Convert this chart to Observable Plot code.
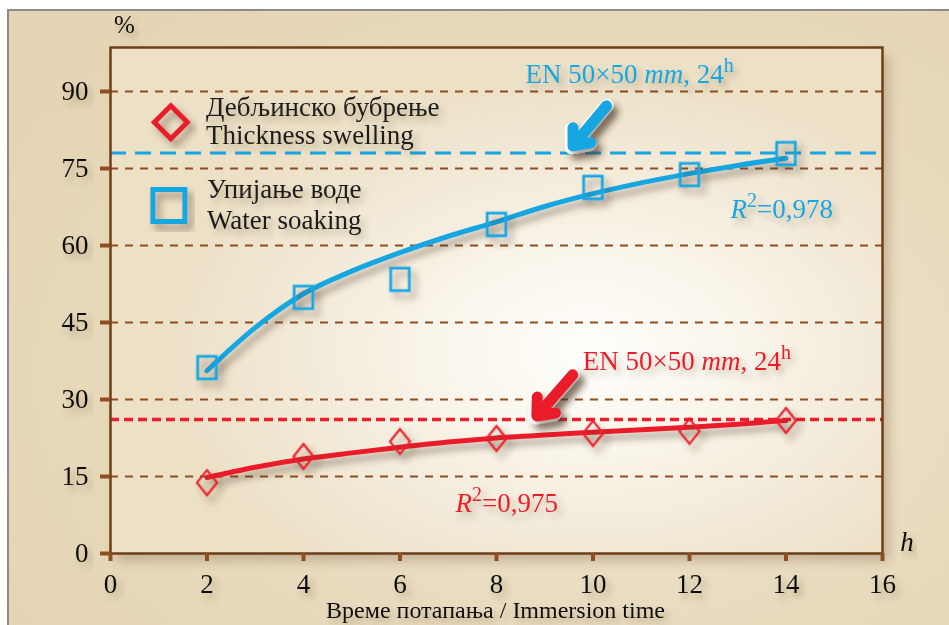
<!DOCTYPE html>
<html><head><meta charset="utf-8">
<script src="https://cdn.jsdelivr.net/npm/d3@7"></script>
<script src="https://cdn.jsdelivr.net/npm/@observablehq/plot@0.6"></script>
<style>
body{margin:0;background:#fff;}
#wrap{position:relative;width:949px;height:625px;overflow:hidden;background:#fff;}
#bg{position:absolute;left:7px;top:9px;width:980px;height:660px;border-left:2px solid #8c8c8c;border-top:2px solid #8c8c8c;
 background:radial-gradient(ellipse 70% 70% at 60% 55%, #efe5d0 0%, #e8dabd 60%, #e5d5b4 100%);}
#pa{position:absolute;left:110px;top:47px;width:773px;height:506px;
 background:radial-gradient(ellipse 55% 55% at 62% 60%, #fffefb 0%, #fbf7ee 30%, #f3ebda 65%, #ece0c6 100%);
 box-shadow:6px 8px 10px rgba(90,60,30,0.25);}
#chart{position:absolute;left:0;top:0;}
</style></head>
<body><div id="wrap"><div id="bg"></div><div id="pa"></div><div id="chart"></div></div>
<script>
// ---- data ----
const hours = [2, 4, 6, 8, 10, 12, 14];
const thicknessSwelling = [13.8, 18.9, 21.8, 22.4, 23.4, 23.8, 25.9];
const waterSoaking = [36.2, 49.9, 53.4, 64.1, 71.3, 73.8, 77.9];
const fitHours = [2, 3, 4, 5, 6, 7, 8, 9, 10, 11, 12, 13, 14];
const thicknessFit = [14.8, 16.8, 18.4, 19.6, 20.7, 21.7, 22.5, 23.1, 23.6, 24.1, 24.6, 25.2, 25.9];
const waterFit = [35.6, 44.0, 50.6, 55.0, 58.6, 61.8, 64.6, 67.6, 70.1, 72.2, 74.0, 75.6, 77.0];
const enWater = 78;
const enThickness = 26.1;
const yTicks = [0, 15, 30, 45, 60, 75, 90];
const gridTicks = [15, 30, 45, 60, 75, 90];
const xTicks = [0, 2, 4, 6, 8, 10, 12, 14, 16];
const legendLabels = ["Дебљинско бубрење", "Thickness swelling", "Упијање воде", "Water soaking"];
const enLabel = "EN 50×50 mm, 24h";
const r2Water = "R2=0,978";
const r2Thickness = "R2=0,975";
const xLabel = "Време потапања / Immersion time";

const BLUE = "#17a6e2", RED = "#ea1f2b", BROWN = "#8e4e22", FRAME = "#6e3e18";

const pts = (xs, ys) => xs.map((x, i) => ({x, y: ys[i]}));

const rectSym = {draw(ctx) { const w = 9.3, h = 11.3; ctx.moveTo(-w, -h); ctx.lineTo(w, -h); ctx.lineTo(w, h); ctx.lineTo(-w, h); ctx.closePath(); }};
const diaSym = {draw(ctx) { const w = 10, h = 12.5; ctx.moveTo(0, -h); ctx.lineTo(w, 0); ctx.lineTo(0, h); ctx.lineTo(-w, 0); ctx.closePath(); }};
const legDia = {draw(ctx) { const h = 16.5; ctx.moveTo(0, -h); ctx.lineTo(h, 0); ctx.lineTo(0, h); ctx.lineTo(-h, 0); ctx.closePath(); }};
const legSq = {draw(ctx) { const h = 16; ctx.moveTo(-h, -h); ctx.lineTo(h, -h); ctx.lineTo(h, h); ctx.lineTo(-h, h); ctx.closePath(); }};

const arrows = [
  {x1: 10.28, y1: 87.2, x2: 9.56, y2: 79.1, c: BLUE},
  {x1: 9.58, y1: 34.8, x2: 8.81, y2: 26.5, c: RED}
];

const plot = Plot.plot({
  width: 949, height: 625,
  marginLeft: 110, marginRight: 67, marginTop: 47, marginBottom: 72,
  style: {background: "transparent", fontFamily: "'Liberation Serif', 'Times New Roman', serif", color: "#111", overflow: "visible"},
  x: {domain: [0, 16]},
  y: {domain: [0, 98.57]},
  marks: [
    Plot.ruleY(gridTicks, {stroke: BROWN, strokeWidth: 2, strokeDasharray: "8,7"}),
    Plot.ruleY([enWater], {stroke: BLUE, strokeWidth: 3, strokeDasharray: "16,9"}),
    Plot.ruleY([enThickness], {stroke: RED, strokeWidth: 3.5, strokeDasharray: "9,5"}),
    Plot.frame({stroke: FRAME, strokeWidth: 2.5}),
    Plot.axisY({ticks: yTicks, tickSize: 10, tickPadding: 12, fontSize: 27, stroke: BROWN, strokeWidth: 4, tickFormat: d => String(d), label: null}),
    Plot.axisX({ticks: xTicks, tickSize: 8, tickPadding: 12, fontSize: 27, stroke: BROWN, strokeWidth: 4, tickFormat: d => String(d), label: null}),
    Plot.line(pts(fitHours, waterFit), {x: "x", y: "y", stroke: BLUE, strokeWidth: 5, curve: "monotone-x"}),
    Plot.line(pts(fitHours, thicknessFit), {x: "x", y: "y", stroke: RED, strokeWidth: 5, curve: "monotone-x"}),
    Plot.dot(pts(hours, waterSoaking), {x: "x", y: "y", symbol: rectSym, stroke: BLUE, strokeWidth: 2.8, fill: "none", r: 10}),
    Plot.dot(pts(hours, thicknessSwelling), {x: "x", y: "y", symbol: diaSym, stroke: RED, strokeWidth: 2.2, fill: "none", r: 10}),
    // legend symbols
    Plot.dot([{x: 1.25, y: 84.0}], {x: "x", y: "y", symbol: legDia, stroke: RED, strokeWidth: 5, fill: "none", r: 12}),
    Plot.dot([{x: 1.21, y: 67.8}], {x: "x", y: "y", symbol: legSq, stroke: BLUE, strokeWidth: 5, fill: "none", r: 12}),
    // arrows
    Plot.arrow(arrows, {x1: "x1", y1: "y1", x2: "x2", y2: "y2", stroke: "white", strokeWidth: 14, headAngle: 80, headLength: 10, strokeLinejoin: "miter"}),
    Plot.arrow(arrows, {x1: "x1", y1: "y1", x2: "x2", y2: "y2", stroke: "c", strokeWidth: 11, headAngle: 80, headLength: 10, strokeLinejoin: "miter", insetEnd: 2}),
    // legend text
    Plot.text(legendLabels, {x: [1.98, 1.98, 2.0, 2.0], y: [85.2, 79.7, 69.2, 63.3], text: d => d, textAnchor: "start", lineAnchor: "bottom", fontSize: 27, fill: "#1a1a1a"}),
    // annotations
    Plot.text([enLabel], {x: 8.6, y: 91.6, text: d => d, textAnchor: "start", lineAnchor: "bottom", fontSize: 27, fill: BLUE}),
    Plot.text([enLabel], {x: 9.79, y: 35.65, text: d => d, textAnchor: "start", lineAnchor: "bottom", fontSize: 27, fill: RED}),
    Plot.text([r2Water], {x: 12.85, y: 65.3, text: d => d, textAnchor: "start", lineAnchor: "bottom", fontSize: 27, fill: BLUE}),
    Plot.text([r2Thickness], {x: 7.15, y: 8.0, text: d => d, textAnchor: "start", lineAnchor: "bottom", fontSize: 27, fill: RED}),
    Plot.text(["%"], {x: 0.07, y: 101.3, text: d => d, textAnchor: "start", lineAnchor: "bottom", fontSize: 25, fill: "#111"}),
    Plot.text(["h"], {x: 16.37, y: 0.4, text: d => d, textAnchor: "start", lineAnchor: "bottom", fontSize: 27, fontStyle: "italic", fill: "#111"}),
    Plot.text([xLabel], {x: 7.98, y: -12.6, text: d => d, textAnchor: "middle", lineAnchor: "bottom", fontSize: 24, fill: "#111"})
  ]
});

// shadow filter
const svg = d3.select(plot);
const defs = svg.insert("defs", ":first-child");
const f = defs.append("filter").attr("id", "sh").attr("x", "-30%").attr("y", "-30%").attr("width", "160%").attr("height", "160%");
f.append("feDropShadow").attr("dx", 5).attr("dy", 6).attr("stdDeviation", 3.5).attr("flood-color", "#4a3520").attr("flood-opacity", 0.45);
const f2 = defs.append("filter").attr("id", "sh2").attr("x", "-20%").attr("y", "-30%").attr("width", "140%").attr("height", "160%");
f2.append("feDropShadow").attr("dx", 4).attr("dy", 5).attr("stdDeviation", 3).attr("flood-color", "#4a3520").attr("flood-opacity", 0.3);
svg.selectAll('g[aria-label="line"], g[aria-label="dot"], g[aria-label="arrow"]').attr("filter", "url(#sh)");
svg.selectAll('g[aria-label="text"], g[aria-label="y-axis tick label"], g[aria-label="x-axis tick label"]').attr("filter", "url(#sh2)");

// rich text: italics and superscripts
svg.selectAll("text").each(function() {
  const t = this.textContent;
  if (t === enLabel) {
    this.innerHTML = 'EN 50×50 <tspan font-style="italic">mm</tspan>, 24<tspan dy="-11" font-size="20">h</tspan>';
  } else if (t === r2Water || t === r2Thickness) {
    const v = t.slice(2);
    this.innerHTML = '<tspan font-style="italic">R</tspan><tspan dy="-11" font-size="20">2</tspan><tspan dy="11">' + v + '</tspan>';
  }
});

document.getElementById("chart").appendChild(plot);
</script></body></html>
